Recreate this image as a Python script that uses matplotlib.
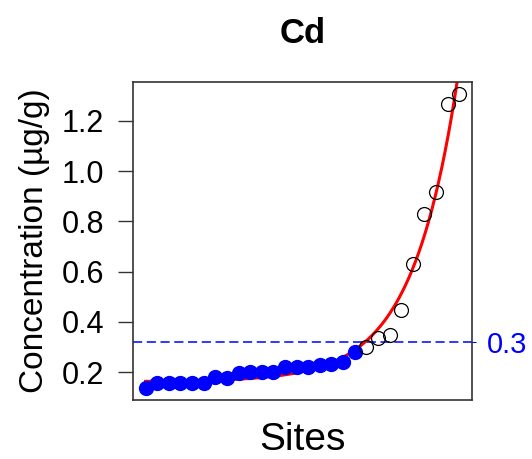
import numpy as np
import matplotlib
matplotlib.use("Agg")
import matplotlib.pyplot as plt

plt.rcParams['font.family'] = ['Liberation Sans', 'DejaVu Sans']

# sorted Cd concentrations (ug/g), background sites then elevated sites
background = [0.136, 0.156, 0.156, 0.156, 0.156, 0.158, 0.18, 0.178, 0.195, 0.2,
              0.2, 0.202, 0.22, 0.22, 0.222, 0.228, 0.232, 0.24, 0.28]
elevated = [0.30, 0.335, 0.347, 0.447, 0.63, 0.83, 0.917, 1.268, 1.308]
threshold = 0.32
threshold_label = "0.3"
yticks = [0.2, 0.4, 0.6, 0.8, 1.0, 1.2]

conc = np.array(background + elevated)
idx = np.arange(1, len(conc) + 1)
idx_bg = idx[:len(background)]
idx_el = idx[len(background):]

# exponential fit y = a + b*exp(c*x)
best = None
for c in np.linspace(0.05, 1.0, 2000):
    A = np.column_stack([np.ones_like(idx, dtype=float), np.exp(c * idx)])
    coef, *_ = np.linalg.lstsq(A, conc, rcond=None)
    err = np.sum((A @ coef - conc) ** 2)
    if best is None or err < best[0]:
        best = (err, c, coef)
_, c, (a, b) = best
xs = np.linspace(idx[0], idx[-1] + 1, 400)
ys = a + b * np.exp(c * xs)

fig = plt.figure(figsize=(5.32, 4.59), dpi=100)
ax = fig.add_axes([0.25, 0.1285, 0.637, 0.693])

ax.plot(xs, ys, color='red', lw=2.2, zorder=2)
ax.axhline(threshold, color='blue', lw=1.1, ls=(0, (6, 3)), zorder=1)
ax.plot(idx_bg, background, 'o', color='blue', ms=10, mec='blue', zorder=3)
ax.plot(idx_el, elevated, 'o', mfc='none', mec='black', ms=10, mew=0.9, zorder=3)

n = len(conc)
xr = (n - 1) * 0.04
ax.set_xlim(1 - xr, n + xr)
yr = (conc.max() - conc.min()) * 0.04
ax.set_ylim(conc.min() - yr, conc.max() + yr)

ax.set_xticks([])
ax.set_yticks(yticks)
ax.set_yticklabels([f"{v:.1f}" for v in yticks])
ax.tick_params(axis='y', labelsize=22, length=11, width=1, pad=10, color='#333333')
for s in ax.spines.values():
    s.set_linewidth(1.2)
    s.set_color('#333333')

# right-hand threshold label
ax2 = ax.twinx()
ax2.set_ylim(ax.get_ylim())
ax2.set_yticks([threshold])
ax2.set_yticklabels([threshold_label])
ax2.tick_params(axis='y', labelsize=21, length=3, colors='blue', pad=8)
for s in ax2.spines.values():
    s.set_visible(False)

ax.set_title("Cd", fontsize=25, fontweight='bold', pad=28)
ax.set_ylabel("Concentration (\u00b5g/g)", fontsize=24, labelpad=8)
ax.set_xlabel("Sites", fontsize=28, labelpad=16)

fig.savefig("out.png", dpi=100)
